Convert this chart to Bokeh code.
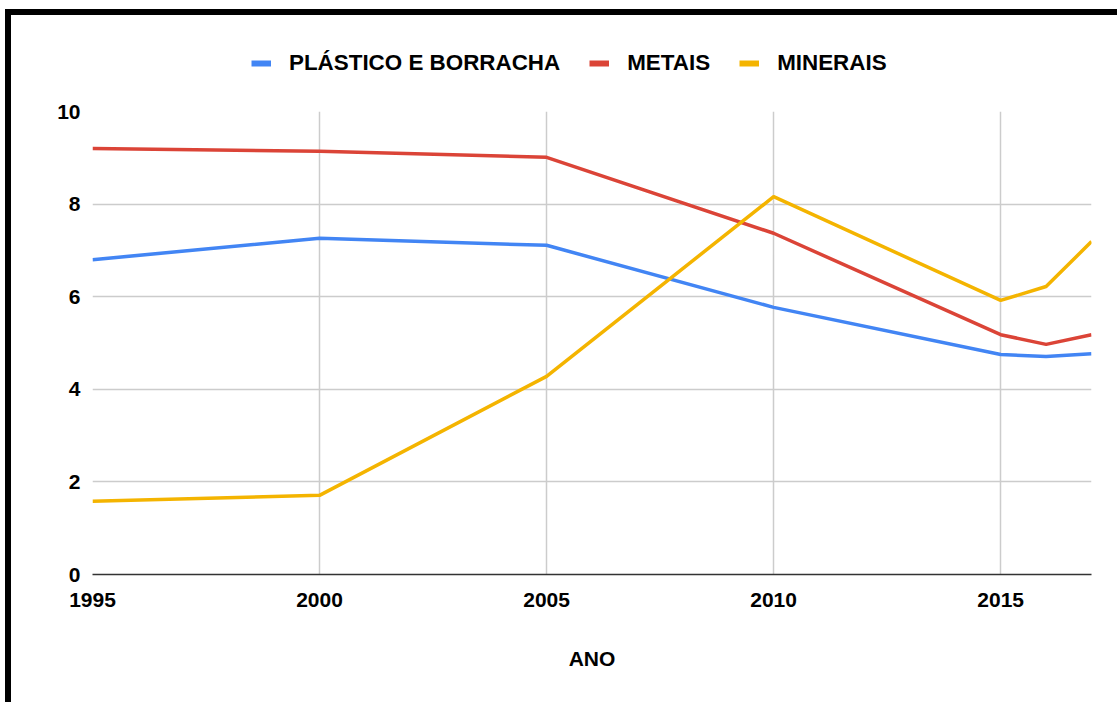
from bokeh.plotting import figure
from bokeh.models import Legend, LegendItem, FixedTicker, Range1d
from bokeh.layouts import column
from bokeh.embed import file_html
from bokeh.resources import INLINE

years = [1995, 2000, 2005, 2010, 2015, 2016, 2017]
plastico = [6.80, 7.26, 7.11, 5.77, 4.75, 4.71, 4.77]
metais = [9.20, 9.14, 9.01, 7.37, 5.18, 4.97, 5.18]
minerais = [1.58, 1.71, 4.28, 8.16, 5.92, 6.22, 7.19]
series_names = ["PLÁSTICO E BORRACHA", "METAIS", "MINERAIS"]
colors = ["#4285F4", "#DB4437", "#F4B400"]
x_ticks = [1995, 2000, 2005, 2010, 2015]
y_ticks = [0, 2, 4, 6, 8, 10]

FONT = "Liberation Sans"
W = 1106
series = [plastico, metais, minerais]

# main chart
p = figure(width=W, height=603, output_backend="svg", toolbar_location=None,
           x_range=Range1d(1995, 2017), y_range=Range1d(0, 10),
           min_border_left=81, min_border_right=W - 81 - 999, min_border_top=12, min_border_bottom=128)
p.outline_line_color = None

for ys, c in zip(series, colors):
    p.line(years, ys, line_color=c, line_width=3.5)

p.xaxis.ticker = FixedTicker(ticks=x_ticks)
p.yaxis.ticker = FixedTicker(ticks=y_ticks)
for ax in (p.xaxis, p.yaxis):
    ax.major_label_text_font = FONT
    ax.major_label_text_font_style = "bold"
    ax.major_label_text_font_size = "21px"
    ax.major_label_text_color = "#000000"
    ax.major_tick_line_color = None
    ax.minor_tick_line_color = None
p.xaxis.axis_line_color = "#333333"
p.xaxis.axis_line_width = 1.5
p.yaxis.axis_line_color = None
p.xaxis.major_label_standoff = 12
p.yaxis.major_label_standoff = 6
p.xaxis.axis_label = "ANO"
p.xaxis.axis_label_text_font = FONT
p.xaxis.axis_label_text_font_style = "bold"
p.xaxis.axis_label_text_font_size = "21px"
p.xaxis.axis_label_text_color = "#000000"
p.xaxis.axis_label_standoff = 37

p.xgrid.grid_line_color = "#cccccc"
p.ygrid.grid_line_color = "#cccccc"
p.xgrid.grid_line_width = 1.5
p.ygrid.grid_line_width = 1.5

# legend strip above the chart (its renderers lie outside its own ranges)
lg = figure(width=W, height=84, output_backend="svg", toolbar_location=None,
            x_range=Range1d(0, 1), y_range=Range1d(0, 1),
            x_axis_location=None, y_axis_location=None, min_border=0)
lg.outline_line_color = None
lg.xgrid.visible = False
lg.ygrid.visible = False
dummies = [lg.line(years, ys, line_color=c, line_width=6) for ys, c in zip(series, colors)]
legend = Legend(items=[LegendItem(label=n, renderers=[r]) for n, r in zip(series_names, dummies)],
                orientation="horizontal", location=(159, 23),
                glyph_width=20, glyph_height=20, label_standoff=18, spacing=29,
                padding=0, margin=0, border_line_color=None, background_fill_alpha=0,
                label_text_font=FONT, label_text_font_style="bold", label_text_font_size="22.4px",
                label_text_color="#000000")
lg.add_layout(legend, "center")

layout = column(lg, p, spacing=0)
layout.styles = {"border-top": "6px solid black", "border-left": "6px solid black",
                 "margin-left": "5px", "margin-top": "9px"}

open("out.html", "w").write(file_html(layout, INLINE))
